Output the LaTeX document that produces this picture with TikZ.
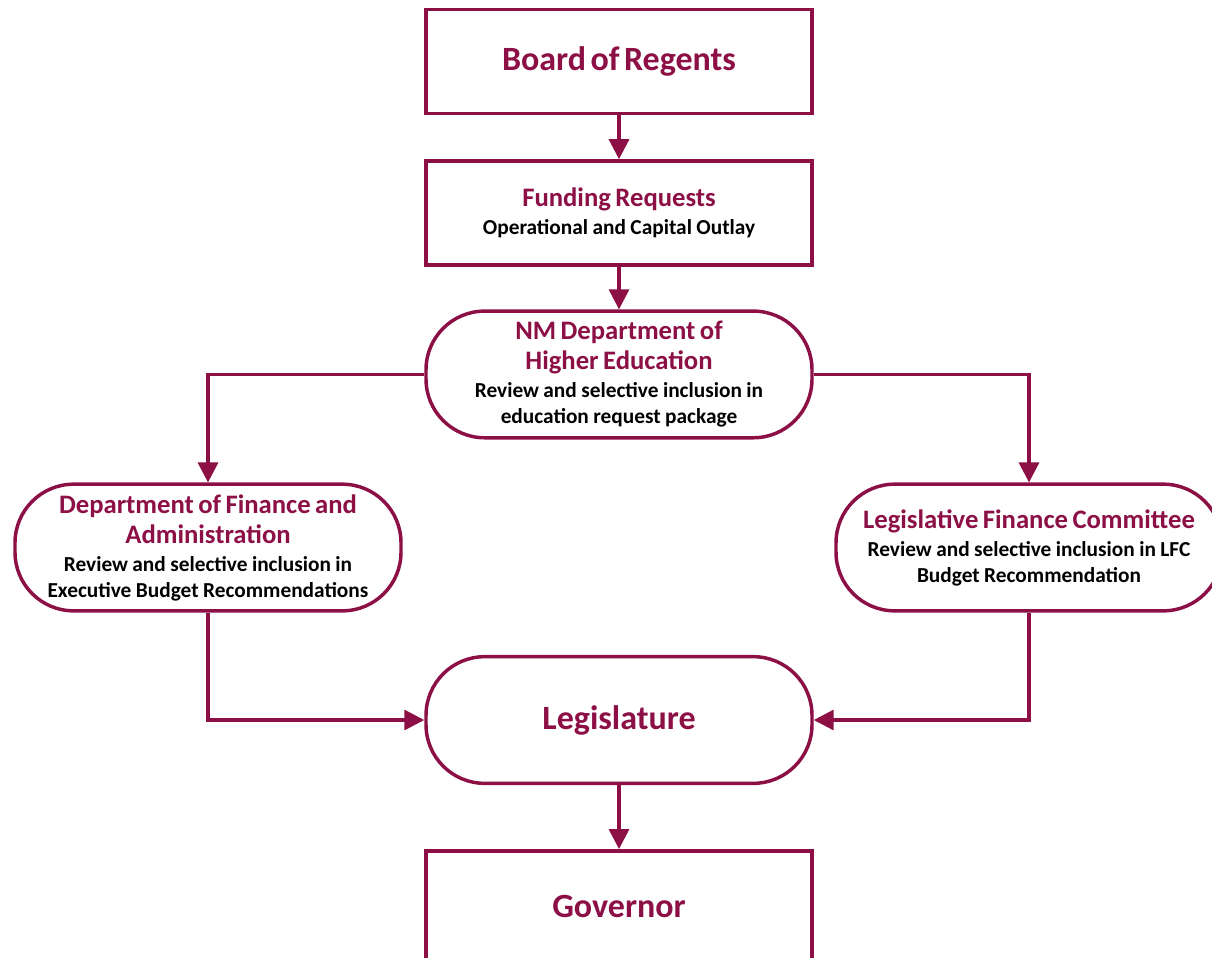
\documentclass[tikz,border=0pt]{standalone}
\usepackage{fontspec}
\setmainfont{Carlito}
\usepackage{xcolor}
\usetikzlibrary{arrows.meta,positioning}
\definecolor{maroon}{HTML}{8C1046}

% text sizes used inside the boxes
\newcommand{\bigfont}{\fontsize{25.5}{30}\selectfont\bfseries}
\newcommand{\headfont}{\fontsize{20}{22.5}\selectfont\bfseries}
\newcommand{\bodyfont}{\vspace{1.5pt}\fontsize{16}{19.5}\selectfont\bfseries}

\tikzset{
  boxnode/.style={
    draw=maroon, line width=2.6pt, fill=white,
    minimum width=289.5pt, minimum height=78pt,
    text width=280pt, align=center, inner sep=2pt,
  },
  pillnode/.style={boxnode, rounded corners=44pt, minimum height=95pt},
  arrow/.style={-{Triangle[length=15pt, width=15pt]}, line width=2.4pt, color=maroon},
}

\begin{document}
\begin{tikzpicture}[x=0.75pt, y=-0.75pt]
  \useasboundingbox (0,0) rectangle (1212,957);

  \node[boxnode] (board) at (619,61.5)
    {\bigfont\color{maroon} Board of Regents};
  \node[boxnode, below=33pt of board] (funding)
    {{\headfont\color{maroon} Funding Requests\par}
     {\bodyfont Operational and Capital Outlay\par}};
  \node[pillnode, below=32pt of funding] (nmhed)
    {{\headfont\color{maroon} NM Department of\\Higher Education\par}
     {\bodyfont Review and selective inclusion in\\education request package\par}};

  \node[pillnode] (dfa) at (208,547.5)
    {{\headfont\color{maroon} Department of Finance and\\Administration\par}
     {\bodyfont Review and selective inclusion in\\Executive Budget Recommendations\par}};
  \node[pillnode] (lfc) at (1029,547.5)
    {{\headfont\color{maroon} Legislative Finance Committee\par}
     {\bodyfont Review and selective inclusion in LFC\\Budget Recommendation\par}};

  \node[pillnode] (legis) at (619,720)
    {\bigfont\color{maroon} Legislature};
  % runs off the lower edge
  \node[boxnode, below=48pt of legis, minimum height=84pt] (gov)
    {\bigfont\color{maroon} Governor};

  \draw[arrow] (board) -- (funding);
  \draw[arrow] (funding) -- (nmhed);
  \draw[arrow] (nmhed.west) -| (dfa.north);
  \draw[arrow] (nmhed.east) -| (lfc.north);
  \draw[arrow] (dfa.south) |- (legis.west);
  \draw[arrow] (lfc.south) |- (legis.east);
  \draw[arrow] (legis) -- (gov);

\end{tikzpicture}
\end{document}
